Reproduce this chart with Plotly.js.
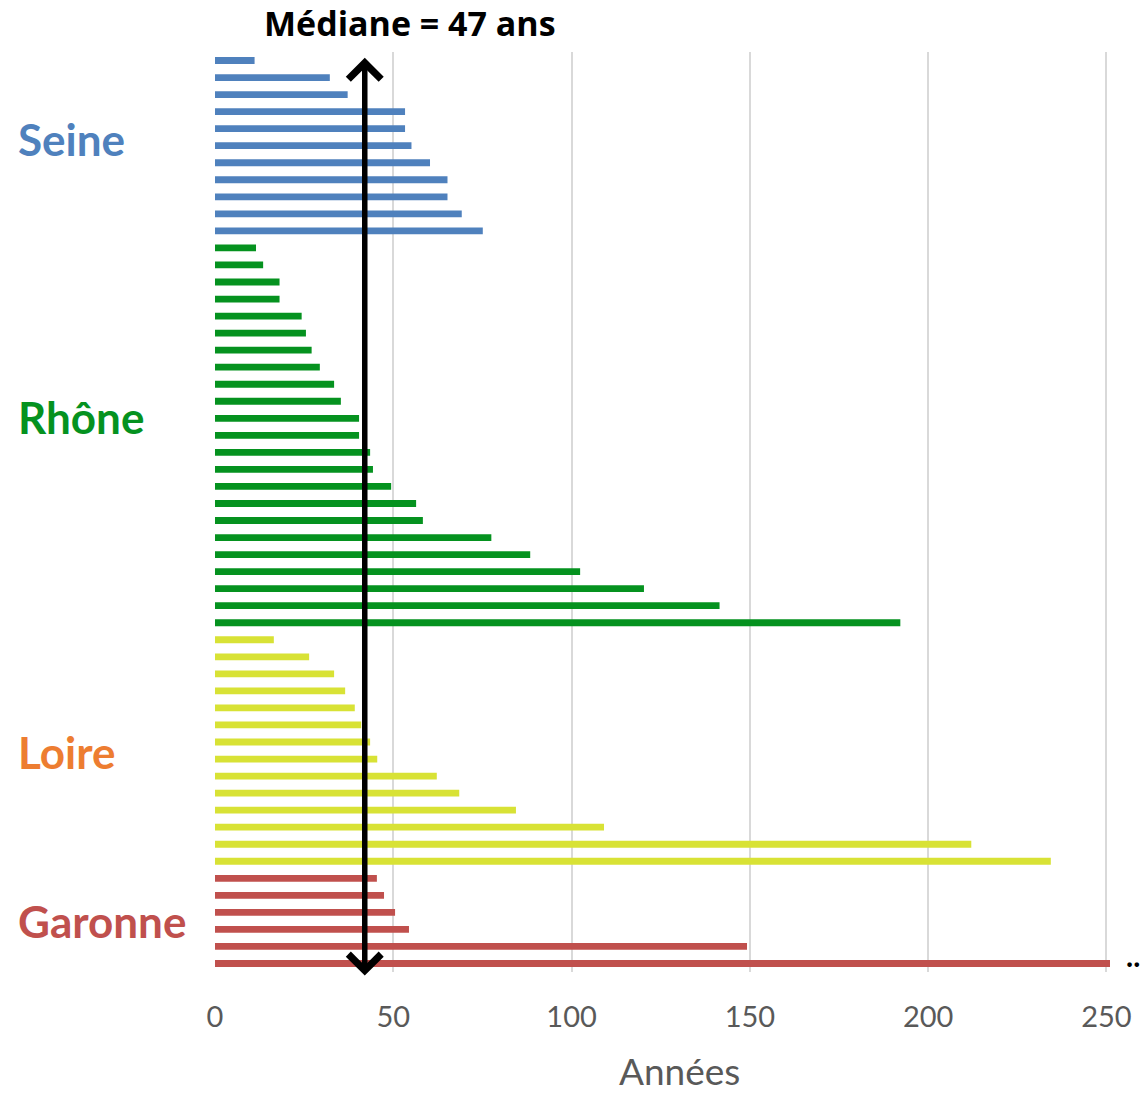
<!DOCTYPE html>
<html>
<head>
<meta charset="utf-8">
<script src="https://cdn.plot.ly/plotly-3.0.1.min.js"></script>
<style>html,body{margin:0;padding:0;background:#fff;}#chart{width:1140px;height:1096px;}</style>
</head>
<body>
<div id="chart"></div>
<script>
// Durations (années), top to bottom within each river group
const seine   = [11.1, 32.2, 37.2, 53.3, 53.3, 55.1, 60.3, 65.2, 65.2, 69.2, 75.1];
const rhone   = [11.5, 13.5, 18.1, 18.1, 24.3, 25.5, 27.1, 29.4, 33.4, 35.3, 40.4, 40.4, 43.5, 44.3, 49.4, 56.4, 58.3, 77.5, 88.4, 102.4, 120.3, 141.5, 192.2];
const loire   = [16.5, 26.4, 33.4, 36.5, 39.2, 41.0, 43.5, 45.5, 62.2, 68.5, 84.4, 109.1, 212.1, 234.4];
const garonne = [45.4, 47.4, 50.5, 54.4, 149.2, 251];
const groupNames = ["Seine", "Rhône", "Loire", "Garonne"];
const xTicks = [0, 50, 100, 150, 200, 250];
const medianLabel = "Médiane = 47 ans";
const xTitle = "Années";
const arrowX = 42;

const groups = [seine, rhone, loire, garonne];
const barColors = ["#4f81bd", "#05921f", "#d8e235", "#c0504d"];
const labelColors = ["#4f81bd", "#05921f", "#ed7d31", "#c0504d"];

let offset = 0;
const traces = [];
groups.forEach((vals, g) => {
  const ys = vals.map((v, i) => offset + i);
  traces.push({
    type: "bar", orientation: "h", x: vals, y: ys,
    width: 0.4, marker: {color: barColors[g]}, name: groupNames[g],
    hoverinfo: "x"
  });
  offset += vals.length;
});
const nBars = offset;

const annotations = [];
const labelY = [4.6, 20.9, 40.6, 50.5];
groupNames.forEach((n, g) => {
  annotations.push({
    xref: "paper", yref: "y", x: -0.222, y: labelY[g], xanchor: "left", yanchor: "middle",
    text: "<b>" + n + "</b>", showarrow: false,
    font: {family: "Lato, 'Open Sans', sans-serif", size: 44, color: labelColors[g]}
  });
});
annotations.push({
  xref: "paper", yref: "paper", x: 0.218, y: 1.0, xanchor: "center", yanchor: "middle", yshift: 29,
  text: "<b>" + medianLabel + "</b>", showarrow: false, borderpad: 0,
  font: {family: "'Open Sans', Lato, sans-serif", size: 34, color: "#000"}
});
annotations.push({
  xref: "paper", yref: "paper", x: 0.519, y: 0, xanchor: "center", yanchor: "bottom", yshift: -122,
  text: xTitle, showarrow: false, borderpad: 0,
  font: {family: "Lato, sans-serif", size: 37, color: "#595959"}
});
annotations.push({
  xref: "x", yref: "y", axref: "x", ayref: "y",
  x: arrowX, y: -0.16, ax: arrowX, ay: nBars - 0.2,
  text: "", showarrow: true, arrowside: "end+start",
  arrowhead: 4, startarrowhead: 4, arrowsize: 1.15, startarrowsize: 1.15,
  arrowwidth: 5.5, arrowcolor: "#000", standoff: 0, startstandoff: 0
});
annotations.push({
  xref: "paper", yref: "y", x: 1.0, y: nBars - 1, xanchor: "left", yanchor: "middle", xshift: 14, yshift: 8,
  text: "<b>..</b>", showarrow: false,
  font: {family: "Lato, sans-serif", size: 30, color: "#000"}
});

const layout = {
  width: 1140, height: 1096,
  margin: {l: 215, r: 30, t: 52, b: 124},
  paper_bgcolor: "#fff", plot_bgcolor: "#fff",
  showlegend: false, barmode: "overlay",
  xaxis: {
    range: [0, 251], tickvals: xTicks, ticktext: xTicks.map(String),
    showgrid: true, gridcolor: "#d9d9d9", gridwidth: 2,
    zeroline: false, showline: false, ticks: "",
    ticklabelstandoff: 25,
    tickfont: {family: "Lato, sans-serif", size: 29, color: "#595959"}
  },
  yaxis: {
    range: [nBars - 0.5, -0.5], showticklabels: false, showgrid: false,
    zeroline: false, showline: false, ticks: ""
  },
  annotations: annotations
};

Plotly.newPlot("chart", traces, layout, {displayModeBar: false, staticPlot: true});
</script>
</body>
</html>
